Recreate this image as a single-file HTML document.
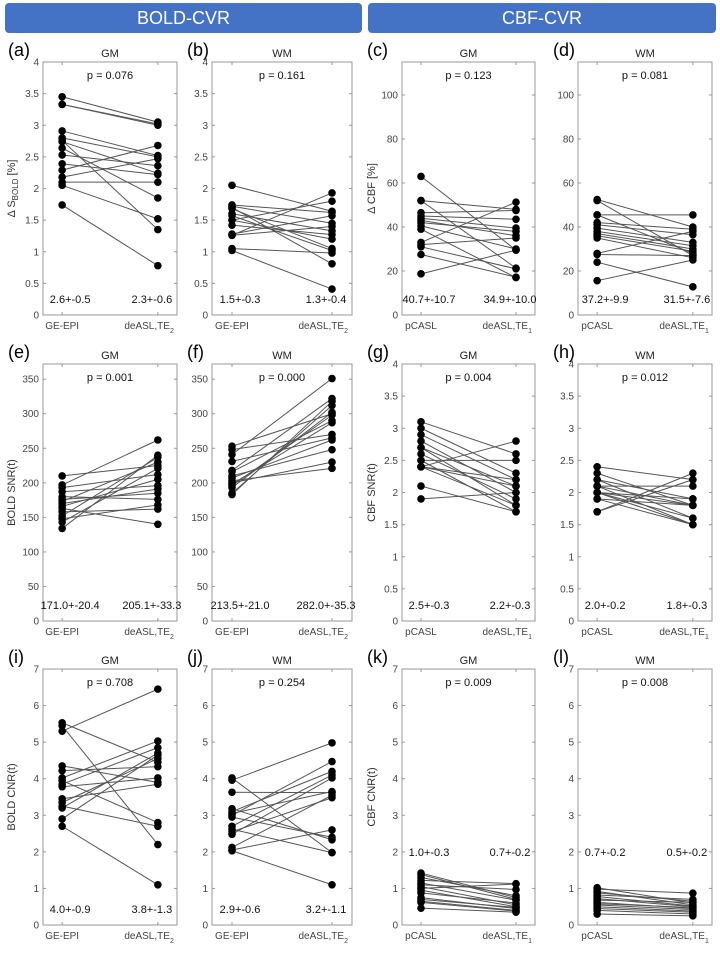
<!DOCTYPE html>
<html><head><meta charset="utf-8"><style>
body{margin:0;background:#fff;width:720px;height:960px;overflow:hidden;font-family:"Liberation Sans",sans-serif}
.hdr{position:absolute;top:3px;height:30px;background:#4472C4;color:#fff;font-size:18px;line-height:30px;text-align:center;border-radius:4px}
</style></head><body>
<div class="hdr" style="left:5px;width:357px">BOLD-CVR</div>
<div class="hdr" style="left:368px;width:348px">CBF-CVR</div>
<svg id="fig" width="720" height="960" style="position:absolute;left:0;top:0"></svg>
<script>
const aL=[3.45,3.33,3.33,2.91,2.80,2.76,2.74,2.64,2.53,2.39,2.29,2.18,2.10,2.05,1.74];
const aR=[3.05,3.02,3.00,2.52,2.50,1.35,2.24,1.85,2.36,2.22,2.68,2.47,2.10,1.52,0.78];
const bL=[2.05,1.74,1.72,1.70,1.68,1.60,1.57,1.50,1.50,1.42,1.28,1.26,1.26,1.05,1.02];
const bR=[1.64,1.62,1.45,0.81,1.05,1.33,1.02,1.20,1.80,1.27,1.57,1.93,1.40,0.98,0.41];
const cL=[63,52,52,46.5,45,44,43,42,40.5,39,33,32,31,27.5,18.7];
const cR=[29.5,48,21.3,47.5,43.5,39.5,36,38,30,17,51.3,35,21,17.2,29.5];
const dL=[52.5,52,45.5,45.5,42,41,39.5,38,37,36,35,28,27.5,24,15.6];
const dR=[40,27,28,45.5,39,36.5,33,31.5,30,29,26,38,27,12.8,25];
const eL=[210,197,193,187,180,176,173,170,166,163,158,152,148,143,134];
const eR=[225,262,212,196,176,185,230,191,205,140,162,237,168,221,240];
const fL=[253,248,241,231,218,216,210,207,203,200,198,196,193,185,183];
const fR=[300,270,351,265,322,290,248,262,221,230,287,298,302,312,318];
const gL=[3.1,3.0,2.9,2.8,2.7,2.7,2.6,2.5,2.5,2.4,2.4,2.4,2.4,2.1,1.9];
const gR=[2.6,2.3,2.2,2.0,1.8,2.1,1.9,1.7,2.5,2.8,2.2,1.8,2.1,1.7,2.0];
const hL=[2.4,2.3,2.2,2.2,2.1,2.1,2.1,2.0,2.0,2.0,2.0,1.9,1.9,1.7,1.7];
const hR=[2.2,1.8,1.9,1.6,2.1,1.8,1.5,1.9,1.8,1.6,1.5,1.5,1.8,2.3,2.2];
const iL=[5.53,5.45,5.3,4.35,4.22,4.02,3.95,3.85,3.78,3.45,3.35,3.25,3.2,2.9,2.7];
const iR=[4.45,2.2,6.45,3.9,4.33,5.03,2.8,4.85,4.02,3.85,4.55,2.7,4.7,4.65,1.1];
const jL=[4.02,3.96,3.63,3.18,3.1,3.05,3.0,2.95,2.7,2.62,2.55,2.48,2.12,2.05,2.03];
const jR=[1.98,4.98,3.62,2.33,4.2,3.65,4.47,2.4,4.1,1.98,3.48,4.02,3.55,2.6,1.1];
const kL=[1.42,1.38,1.3,1.22,1.15,1.1,1.05,1.0,0.95,0.88,0.75,0.7,0.65,0.62,0.46];
const kR=[0.75,0.7,0.8,1.13,0.68,0.97,0.55,1.12,0.5,0.6,0.45,0.48,0.4,0.38,0.35];
const lL=[1.02,0.98,0.92,0.88,0.82,0.78,0.72,0.68,0.62,0.58,0.55,0.5,0.45,0.4,0.3];
const lR=[0.6,0.87,0.55,0.65,0.7,0.52,0.5,0.62,0.45,0.48,0.42,0.38,0.35,0.3,0.25];
const pVals=["0.076","0.161","0.123","0.081","0.001","0.000","0.004","0.012","0.708","0.254","0.009","0.008"];
const statsL=["2.6+-0.5","1.5+-0.3","40.7+-10.7","37.2+-9.9","171.0+-20.4","213.5+-21.0","2.5+-0.3","2.0+-0.2","4.0+-0.9","2.9+-0.6","1.0+-0.3","0.7+-0.2"];
const statsR=["2.3+-0.6","1.3+-0.4","34.9+-10.0","31.5+-7.6","205.1+-33.3","282.0+-35.3","2.2+-0.3","1.8+-0.3","3.8+-1.3","3.2+-1.1","0.7+-0.2","0.5+-0.2"];

const svg=document.getElementById('fig');
const NS='http://www.w3.org/2000/svg';
function mk(tag,at,txt){const e=document.createElementNS(NS,tag);for(const k in at)e.setAttribute(k,at[k]);if(txt!==undefined)e.textContent=txt;svg.appendChild(e);return e;}
const cols=[[43,177],[212,352],[402,535],[578,712]];
const rows=[[62,315],[364,621],[669,925]];
const letters="abcdefghijkl";
const data=[[aL,aR],[bL,bR],[cL,cR],[dL,dR],[eL,eR],[fL,fR],[gL,gR],[hL,hR],[iL,iR],[jL,jR],[kL,kR],[lL,lR]];
const ymax=[4,4,115,115,372,372,4,4,7,7,7,7];
const tstep=[0.5,0.5,20,20,50,50,0.5,0.5,1,1,1,1];
const tmax=[4,4,100,100,350,350,4,4,7,7,7,7];
const ylabels=["Δ S<BOLD> [%]",null,"Δ CBF [%]",null,"BOLD SNR(t)",null,"CBF SNR(t)",null,"BOLD CNR(t)",null,"CBF CNR(t)",null];
for(let p=0;p<12;p++){
  const c=p%4,r=Math.floor(p/4);
  const [x0,x1]=cols[c],[y0,y1]=rows[r];
  const xs=v=>x0+(v-0.8)/1.4*(x1-x0);
  const ys=v=>y1-v/ymax[p]*(y1-y0);
  const box=mk('rect',{x:x0,y:y0,width:x1-x0,height:y1-y0,fill:'none',stroke:'#999','stroke-width':1});
  
  
  for(let t=0;t<=tmax[p]+1e-9;t+=tstep[p]){
    const y=ys(t);
    mk('line',{x1:x0,x2:x0+3,y1:y,y2:y,stroke:'#999'});
    mk('line',{x1:x1,x2:x1-3,y1:y,y2:y,stroke:'#999'});
    const lab=mk('text',{x:x0-4,y:y+3.5,'text-anchor':'end','font-size':10,fill:'#444'},String(Math.round(t*10)/10));
    
    
  }
  for(const xv of [1,2]){
    mk('line',{x1:xs(xv),x2:xs(xv),y1:y1,y2:y1-3,stroke:'#999'});
    mk('line',{x1:xs(xv),x2:xs(xv),y1:y0,y2:y0+3,stroke:'#999'});
  }
  const isB=p%4<2;
  const xl1=mk('text',{x:xs(1),y:y1+14,'text-anchor':'middle','font-size':10,fill:'#444'},isB?'GE-EPI':'pCASL');
  
  
  const xl2=mk('text',{x:xs(2)+16,y:y1+14,'text-anchor':'end','font-size':10,fill:'#444'});
  xl2.innerHTML=(isB?'deASL,TE<tspan dy="4" font-size="7">2</tspan>':'deASL,TE<tspan dy="4" font-size="7">1</tspan>');
  
  
  const ti=mk('text',{x:(x0+x1)/2,y:y0-5,'text-anchor':'middle','font-size':11,fill:'#222'},c%2==0?'GM':'WM');
  
  
  const le=mk('text',{x:c==0?8:(c==1?187:(c==2?367:553)),y:y0-6,'font-size':18,fill:'#000'},'('+letters[p]+')');
  
  
  const pv=mk('text',{x:(x0+x1)/2,y:y0+17,'text-anchor':'middle','font-size':11,fill:'#111'},'p = '+pVals[p]);
  
  
  const sy=p>=10?ys(2)+4:y1-12;
  const s1=mk('text',{x:xs(1)+8,y:sy,'text-anchor':'middle','font-size':11,fill:'#111'},statsL[p]);
  
  
  const s2=mk('text',{x:xs(2)-6,y:sy,'text-anchor':'middle','font-size':11,fill:'#111'},statsR[p]);
  
  
  if(ylabels[p]){
    const cx=c==0?15:375, cy=(y0+y1)/2;
    const yl=mk('text',{x:cx,y:cy,'text-anchor':'middle','font-size':11,fill:'#333',transform:`rotate(-90 ${cx} ${cy})`});
    if(p==0) yl.innerHTML='Δ S<tspan dy="3" font-size="8">BOLD</tspan><tspan dy="-3"> [%]</tspan>';
    else yl.textContent=ylabels[p];
    
    
  }
  const [L,R]=data[p];
  for(let i=0;i<L.length;i++){
    const ln=mk('line',{x1:xs(1),y1:ys(L[i]),x2:xs(2),y2:ys(R[i]),stroke:'#555','stroke-width':1});
    
    
  }
  for(let i=0;i<L.length;i++){
    const d1=mk('circle',{cx:xs(1),cy:ys(L[i]),r:3.8,fill:'#000'});
    
    
    const d2=mk('circle',{cx:xs(2),cy:ys(R[i]),r:3.8,fill:'#000'});
    
    
  }
}
</script>
</body></html>
